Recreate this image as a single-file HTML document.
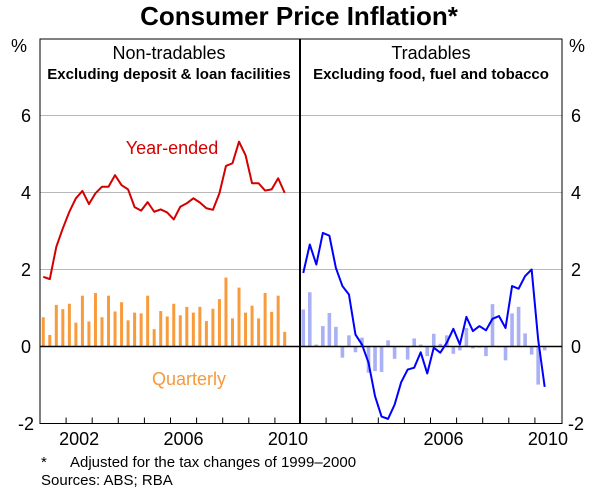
<!DOCTYPE html>
<html><head><meta charset="utf-8"><style>
body{margin:0;background:#fff}
svg{display:block;font-family:"Liberation Sans",Arial,sans-serif}
</style></head><body>
<svg id="chart" width="600" height="495" viewBox="0 0 600 495">
<text x="299" y="25" text-anchor="middle" font-size="26" font-weight="bold">Consumer Price Inflation*</text>
<g id="grid"></g>
<g id="marks"></g>
<g id="frame"></g>
<text x="169" y="59" text-anchor="middle" font-size="18">Non-tradables</text>
<text x="169" y="79" text-anchor="middle" font-size="15" font-weight="bold">Excluding deposit &amp; loan facilities</text>
<text x="431" y="59" text-anchor="middle" font-size="18">Tradables</text>
<text x="431" y="79" text-anchor="middle" font-size="15" font-weight="bold">Excluding food, fuel and tobacco</text>
<text x="172" y="154" text-anchor="middle" font-size="18" fill="#d40000">Year-ended</text>
<text x="189" y="385" text-anchor="middle" font-size="18" fill="#f7993a">Quarterly</text>
<text x="19" y="52" text-anchor="middle" font-size="18">%</text>
<text x="577" y="52" text-anchor="middle" font-size="18">%</text>
<text x="41" y="467" font-size="15">*</text>
<text x="70" y="467" font-size="15">Adjusted for the tax changes of 1999–2000</text>
<text x="41" y="485" font-size="15">Sources: ABS; RBA</text>
</svg>
<script>
const yTicks=[-2,0,2,4,6];
const yearLabels=[2002,2006,2010];
const ntYear=[1.81,1.75,2.59,3.07,3.50,3.85,4.04,3.70,3.98,4.15,4.15,4.45,4.19,4.08,3.62,3.53,3.75,3.50,3.56,3.48,3.30,3.63,3.72,3.85,3.74,3.59,3.55,3.98,4.69,4.76,5.32,4.97,4.24,4.24,4.05,4.08,4.37,3.99];
const ntQtr=[0.76,0.30,1.08,0.97,1.11,0.62,1.32,0.65,1.39,0.76,1.32,0.91,1.15,0.68,0.88,0.86,1.32,0.45,0.92,0.78,1.11,0.81,1.03,0.88,1.03,0.66,0.98,1.23,1.79,0.73,1.53,0.88,1.06,0.73,1.39,0.90,1.32,0.38];
const trYear=[1.91,2.65,2.13,2.95,2.88,2.04,1.57,1.35,0.31,0.05,-0.42,-1.29,-1.82,-1.88,-1.51,-0.93,-0.60,-0.55,-0.15,-0.70,-0.03,-0.16,0.10,0.46,0.05,0.77,0.40,0.53,0.42,0.72,0.79,0.48,1.57,1.50,1.83,2.00,0.18,-1.05];
const trQtr=[0.96,1.41,0.05,0.53,0.87,0.51,-0.29,0.29,-0.15,0.23,-0.68,-0.64,-0.66,0.16,-0.32,0.02,-0.34,0.21,0.05,-0.25,0.33,0.07,0.29,-0.19,-0.10,0.48,-0.05,-0.03,-0.25,1.10,-0.02,-0.36,0.86,1.03,0.34,-0.21,-0.99,-0.10];
const NS='http://www.w3.org/2000/svg';
const L=40,M=300,R=562,T=39,B=423.5;
const y=v=>346.5-v*38.5;
const xl=t=>L+(t-2001)*26.1;
const xr=t=>M+(t-2001)*26.1;
const qt=i=>2001+(i+0.5)/4;
function mk(parent,tag,attrs){const e=document.createElementNS(NS,tag);for(const k in attrs)e.setAttribute(k,attrs[k]);document.getElementById(parent).appendChild(e);return e;}
yTicks.forEach(v=>{
  if(v===0||v===-2)return;
  const g=mk('grid','line',{x1:L,x2:R,y1:y(v),y2:y(v),stroke:'#b8b8b8','stroke-width':1});
  
  
});
yTicks.forEach(v=>{
  const a=mk('frame','text',{x:26,y:y(v)+6.5,'text-anchor':'middle','font-size':18});a.textContent=v;
  
  
  const b=mk('frame','text',{x:576,y:y(v)+6.5,'text-anchor':'middle','font-size':18});b.textContent=v;
  
  
});
ntQtr.forEach((v,i)=>{
  const b=mk('marks','rect',{x:xl(qt(i))-1.5,width:3,y:Math.min(y(v),y(0)),height:Math.abs(y(v)-y(0)),fill:'#f89b3d'});
  
  
});
trQtr.forEach((v,i)=>{
  const b=mk('marks','rect',{x:xr(qt(i))-1.8,width:3.6,y:Math.min(y(v),y(0)),height:Math.max(Math.abs(y(v)-y(0)),0.5),fill:'#aab0f4'});
  
  
});
const z=mk('marks','line',{x1:L,x2:R,y1:y(0),y2:y(0),stroke:'#000','stroke-width':1.5});


const p1=mk('marks','polyline',{points:ntYear.map((v,i)=>xl(qt(i))+','+y(v)).join(' '),fill:'none',stroke:'#d40000','stroke-width':2,'stroke-linejoin':'round'});


const p2=mk('marks','polyline',{points:trYear.map((v,i)=>xr(qt(i))+','+y(v)).join(' '),fill:'none',stroke:'#0000ff','stroke-width':2,'stroke-linejoin':'round'});


const f=mk('frame','rect',{x:L,y:T,width:R-L,height:B-T,fill:'none',stroke:'#000','stroke-width':1});


const d=mk('frame','line',{x1:M,x2:M,y1:T,y2:B,stroke:'#000','stroke-width':2});


for(let t=2002;t<=2010;t++){
  const a=mk('frame','line',{x1:xl(t),x2:xl(t),y1:B,y2:B-6,stroke:'#000'});
  
  
  const b=mk('frame','line',{x1:xr(t),x2:xr(t),y1:B,y2:B-6,stroke:'#000'});
  
  
}
yearLabels.forEach(t=>{
  const a=mk('frame','text',{x:xl(t+0.5),y:445,'text-anchor':'middle','font-size':18});a.textContent=t;
  
  
});
[2006,2010].forEach(t=>{
  const b=mk('frame','text',{x:xr(t+0.5),y:445,'text-anchor':'middle','font-size':18});b.textContent=t;
  
  
});
</script>
</body></html>
